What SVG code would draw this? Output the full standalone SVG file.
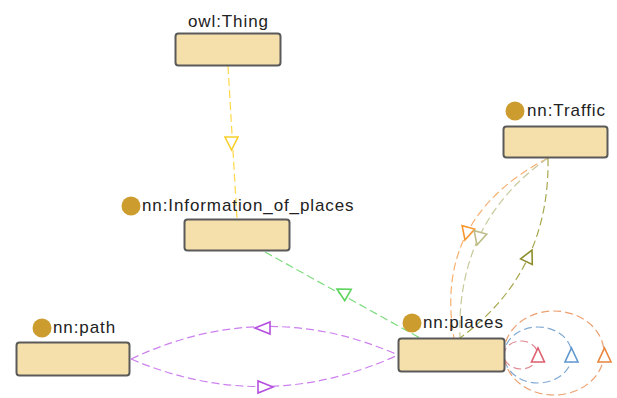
<svg xmlns="http://www.w3.org/2000/svg" width="617" height="398" viewBox="0 0 617 398">
<style>
.box{fill:#f5dfab;stroke:#5a5a5a;stroke-width:2}
.lbl{font-family:"Liberation Sans",Arial,sans-serif;font-size:17px;letter-spacing:0.9px;fill:#222}
.dot{fill:#cc9c2e}
.c{fill:none;stroke-width:1.2;stroke-dasharray:8 4}
.tri{fill:#fff;stroke-width:1.6;stroke-linejoin:miter}
</style>
<rect width="617" height="398" fill="#fff"/>
<g id="connectors">
  <path class="c" stroke="#ffd84a" d="M228 66 L237 219"/>
  <polygon class="tri" stroke="#f7cf2a" points="225,137 238,137 231.5,150"/>
  <path class="c" stroke="#7edc7e" d="M265 252 L420 338"/>
  <polygon class="tri" stroke="#5ed45e" points="337,289 351.2,289.3 344.8,300.7"/>
  <path class="c" stroke="#cc80ee" d="M131 359 Q265 296 398 355"/>
  <polygon class="tri" stroke="#b54fe0" points="255,328 270,322 270,334"/>
  <path class="c" stroke="#cc80ee" d="M131 359 Q265 416 398 355"/>
  <polygon class="tri" stroke="#b54fe0" points="273,387 258,381 258,393"/>
  <path class="c" stroke="#f7b070" d="M548 158 Q433 218 454 338"/>
  <polygon class="tri" stroke="#f7962e" points="465,240 474.7,229.1 462.1,225.7"/>
  <path class="c" stroke="#c8c89a" d="M548 158 Q456 222 460 338"/>
  <polygon class="tri" stroke="#bdbd8a" points="477,245 486.7,234.1 474.1,230.7"/>
  <path class="c" stroke="#a8a850" d="M548 158 Q550 272 460 338"/>
  <polygon class="tri" stroke="#8e8e2c" points="532,250 532.3,264.5 520.6,258.9"/>
  <ellipse class="c" stroke="#e08890" cx="521" cy="355" rx="17" ry="14"/>
  <polygon class="tri" stroke="#de5f6f" points="538,348 544.5,362 531.5,362"/>
  <ellipse class="c" stroke="#80aad4" cx="538" cy="355" rx="34" ry="28"/>
  <polygon class="tri" stroke="#5f97cf" points="571.5,348 578,362 565,362"/>
  <ellipse class="c" stroke="#eca070" cx="554" cy="353" rx="50" ry="42"/>
  <polygon class="tri" stroke="#e8843c" points="604.5,348 611,362 598,362"/>
</g>
<g id="node-thing">
  <rect class="box" x="175.5" y="33.5" width="105" height="32" rx="3"/>
  <text class="lbl" x="188" y="27">owl:Thing</text>
</g>
<g id="node-information">
  <rect class="box" x="184.5" y="219.5" width="105" height="31" rx="3"/>
  <circle class="dot" cx="131" cy="206" r="9.5"/>
  <text class="lbl" x="142" y="211">nn:Information_of_places</text>
</g>
<g id="node-traffic">
  <rect class="box" x="503.5" y="126.5" width="104" height="31" rx="3"/>
  <circle class="dot" cx="515" cy="111" r="9.5"/>
  <text class="lbl" x="527" y="116">nn:Traffic</text>
</g>
<g id="node-path">
  <rect class="box" x="16.5" y="342.5" width="113" height="33" rx="3"/>
  <circle class="dot" cx="42" cy="328" r="9.5"/>
  <text class="lbl" x="53" y="333">nn:path</text>
</g>
<g id="node-places">
  <rect class="box" x="398.5" y="338.5" width="106" height="33" rx="3"/>
  <circle class="dot" cx="412" cy="323" r="9.5"/>
  <text class="lbl" x="423" y="328">nn:places</text>
</g>
</svg>
